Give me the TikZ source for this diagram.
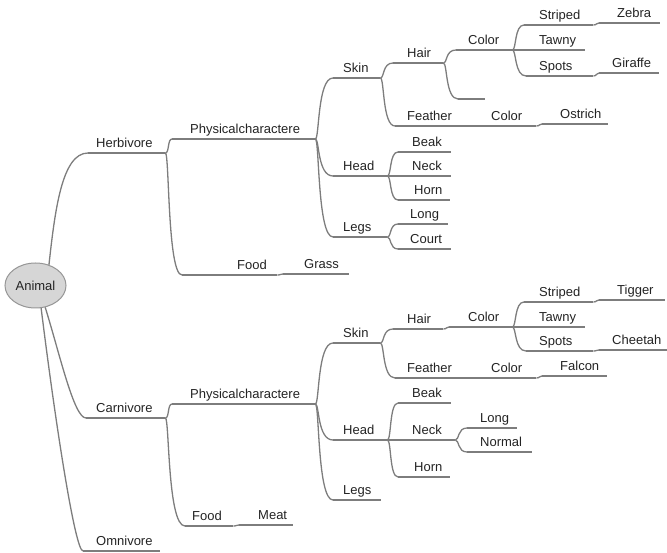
\documentclass[tikz,border=0pt]{standalone}
\usepackage{fontspec}
\setmainfont{Liberation Sans}
\usetikzlibrary{shapes.geometric,calc}

\definecolor{branchgray}{RGB}{125,125,125}
\definecolor{inkgray}{RGB}{35,35,35}
\definecolor{rootfill}{RGB}{214,214,214}
\definecolor{rootline}{RGB}{150,150,150}

\tikzset{
  topic/.style={inner sep=0pt, text height=10pt, text depth=5pt, anchor=south west,
                font=\fontsize{13}{15}\selectfont, text=inkgray},
  underline/.style={draw=branchgray, line width=1.3pt},
  branch/.style={draw=branchgray, line width=1.3pt,
    to path={.. controls ($(\tikztostart)+(4,0)$) and ($(\tikztotarget -| \tikztostart)+(2,0)$) .. (\tikztotarget)}},
  rootbranch/.style={draw=branchgray, line width=1.3pt},
  root/.style={ellipse, draw=rootline, fill=rootfill, line width=1pt, inner sep=0pt,
               minimum width=61pt, minimum height=45pt,
               font=\fontsize{13}{15}\selectfont, text=inkgray},
}

% name, line start x, line end x, line y, text start x, text
\newcommand\mmtopic[6]{%
  \node[topic] (#1) at (#2,#4)
    {\makebox[\dimexpr#3pt-#2pt\relax][l]{\hspace*{\dimexpr#5pt-#2pt\relax}#6}};
  \draw[underline] (#1.south west) -- (#1.south east);}

\begin{document}
\begin{tikzpicture}[x=1pt,y=-1pt]
\useasboundingbox (0,0) rectangle (667,553);

\node[root] (animal) at (35.5,285.5) {Animal};

% ---------- Herbivore ----------
\mmtopic{herb}{88}{165}{153}{96}{Herbivore}
\mmtopic{hphys}{172}{315}{139}{190}{Physicalcharactere}
\mmtopic{hfood}{182}{277}{275}{237}{Food}
\mmtopic{hgrass}{283}{349}{274}{304}{Grass}
\mmtopic{hskin}{333}{380}{78}{343}{Skin}
\mmtopic{hhead}{333}{387}{176}{343}{Head}
\mmtopic{hlegs}{333}{387}{237}{343}{Legs}
\mmtopic{hhair}{393}{443}{63}{407}{Hair}
\mmtopic{hfeather}{395}{470}{126}{407}{Feather}
\mmtopic{hfcolor}{470}{536}{126}{491}{Color}
\mmtopic{hostrich}{542}{608}{124}{560}{Ostrich}
\mmtopic{hcolor}{456}{512}{50}{468}{Color}
\mmtopic{hempty}{458}{485}{99}{470}{}
\mmtopic{hstriped}{524}{593}{25}{539}{Striped}
\mmtopic{hzebra}{599}{660}{23}{617}{Zebra}
\mmtopic{htawny}{512}{585}{50}{539}{Tawny}
\mmtopic{hspots}{526}{593}{76}{539}{Spots}
\mmtopic{hgiraffe}{599}{659}{73}{612}{Giraffe}
\mmtopic{hbeak}{398}{451}{152}{412}{Beak}
\mmtopic{hneck}{387}{451}{176}{412}{Neck}
\mmtopic{hhorn}{398}{450}{200}{414}{Horn}
\mmtopic{hlong}{398}{448}{224}{410}{Long}
\mmtopic{hcourt}{398}{451}{249}{410}{Court}

% ---------- Carnivore ----------
\mmtopic{carn}{86}{165}{418}{96}{Carnivore}
\mmtopic{cphys}{172}{315}{404}{190}{Physicalcharactere}
\mmtopic{cfood}{185}{233}{526}{192}{Food}
\mmtopic{cmeat}{239}{293}{525}{258}{Meat}
\mmtopic{cskin}{333}{380}{343}{343}{Skin}
\mmtopic{chead}{333}{387}{440}{343}{Head}
\mmtopic{clegs}{333}{381}{500}{343}{Legs}
\mmtopic{chair}{393}{443}{329}{407}{Hair}
\mmtopic{ccolor}{449}{512}{327}{468}{Color}
\mmtopic{cfeather}{395}{470}{378}{407}{Feather}
\mmtopic{cfcolor}{470}{536}{378}{491}{Color}
\mmtopic{cfalcon}{542}{607}{376}{560}{Falcon}
\mmtopic{cstriped}{524}{593}{302}{539}{Striped}
\mmtopic{ctigger}{599}{665}{300}{617}{Tigger}
\mmtopic{ctawny}{512}{585}{327}{539}{Tawny}
\mmtopic{cspots}{526}{593}{351}{539}{Spots}
\mmtopic{ccheetah}{599}{667}{350}{612}{Cheetah}
\mmtopic{cbeak}{398}{451}{403}{412}{Beak}
\mmtopic{cneck}{387}{455}{440}{412}{Neck}
\mmtopic{chorn}{398}{450}{477}{414}{Horn}
\mmtopic{clong}{467}{517}{428}{480}{Long}
\mmtopic{cnormal}{467}{532}{452}{480}{Normal}

% ---------- Omnivore ----------
\mmtopic{omni}{83}{160}{551}{96}{Omnivore}

% ---------- branches from the root ----------
\draw[rootbranch] (animal.57) .. controls (55,210) and (62,153) .. (herb.south west);
\draw[rootbranch] (animal.-66) .. controls (60,355) and (74,418) .. (carn.south west);
\draw[rootbranch] (animal.-76) .. controls (55,420) and (75,551) .. (omni.south west);

% ---------- herbivore branches ----------
\draw[branch] (herb.south east) to (hphys.south west);
\draw[branch] (herb.south east) to (hfood.south west);
\draw[branch] (hfood.south east) to (hgrass.south west);
\draw[branch] (hphys.south east) to (hskin.south west);
\draw[branch] (hphys.south east) to (hhead.south west);
\draw[branch] (hphys.south east) to (hlegs.south west);
\draw[branch] (hskin.south east) to (hhair.south west);
\draw[branch] (hskin.south east) to (hfeather.south west);
\draw[branch] (hhair.south east) to (hcolor.south west);
\draw[branch] (hhair.south east) to (hempty.south west);
\draw[branch] (hcolor.south east) to (hstriped.south west);
\draw[underline] (hcolor.south east) -- (htawny.south west);
\draw[branch] (hcolor.south east) to (hspots.south west);
\draw[branch] (hstriped.south east) to (hzebra.south west);
\draw[branch] (hspots.south east) to (hgiraffe.south west);
\draw[underline] (hfeather.south east) -- (hfcolor.south west);
\draw[branch] (hfcolor.south east) to (hostrich.south west);
\draw[branch] (hhead.south east) to (hbeak.south west);
\draw[underline] (hhead.south east) -- (hneck.south west);
\draw[branch] (hhead.south east) to (hhorn.south west);
\draw[branch] (hlegs.south east) to (hlong.south west);
\draw[branch] (hlegs.south east) to (hcourt.south west);

% ---------- carnivore branches ----------
\draw[branch] (carn.south east) to (cphys.south west);
\draw[branch] (carn.south east) to (cfood.south west);
\draw[branch] (cfood.south east) to (cmeat.south west);
\draw[branch] (cphys.south east) to (cskin.south west);
\draw[branch] (cphys.south east) to (chead.south west);
\draw[branch] (cphys.south east) to (clegs.south west);
\draw[branch] (cskin.south east) to (chair.south west);
\draw[branch] (cskin.south east) to (cfeather.south west);
\draw[branch] (chair.south east) to (ccolor.south west);
\draw[branch] (ccolor.south east) to (cstriped.south west);
\draw[underline] (ccolor.south east) -- (ctawny.south west);
\draw[branch] (ccolor.south east) to (cspots.south west);
\draw[branch] (cstriped.south east) to (ctigger.south west);
\draw[branch] (cspots.south east) to (ccheetah.south west);
\draw[underline] (cfeather.south east) -- (cfcolor.south west);
\draw[branch] (cfcolor.south east) to (cfalcon.south west);
\draw[branch] (chead.south east) to (cbeak.south west);
\draw[underline] (chead.south east) -- (cneck.south west);
\draw[branch] (chead.south east) to (chorn.south west);
\draw[branch] (cneck.south east) to (clong.south west);
\draw[branch] (cneck.south east) to (cnormal.south west);
\end{tikzpicture}
\end{document}
